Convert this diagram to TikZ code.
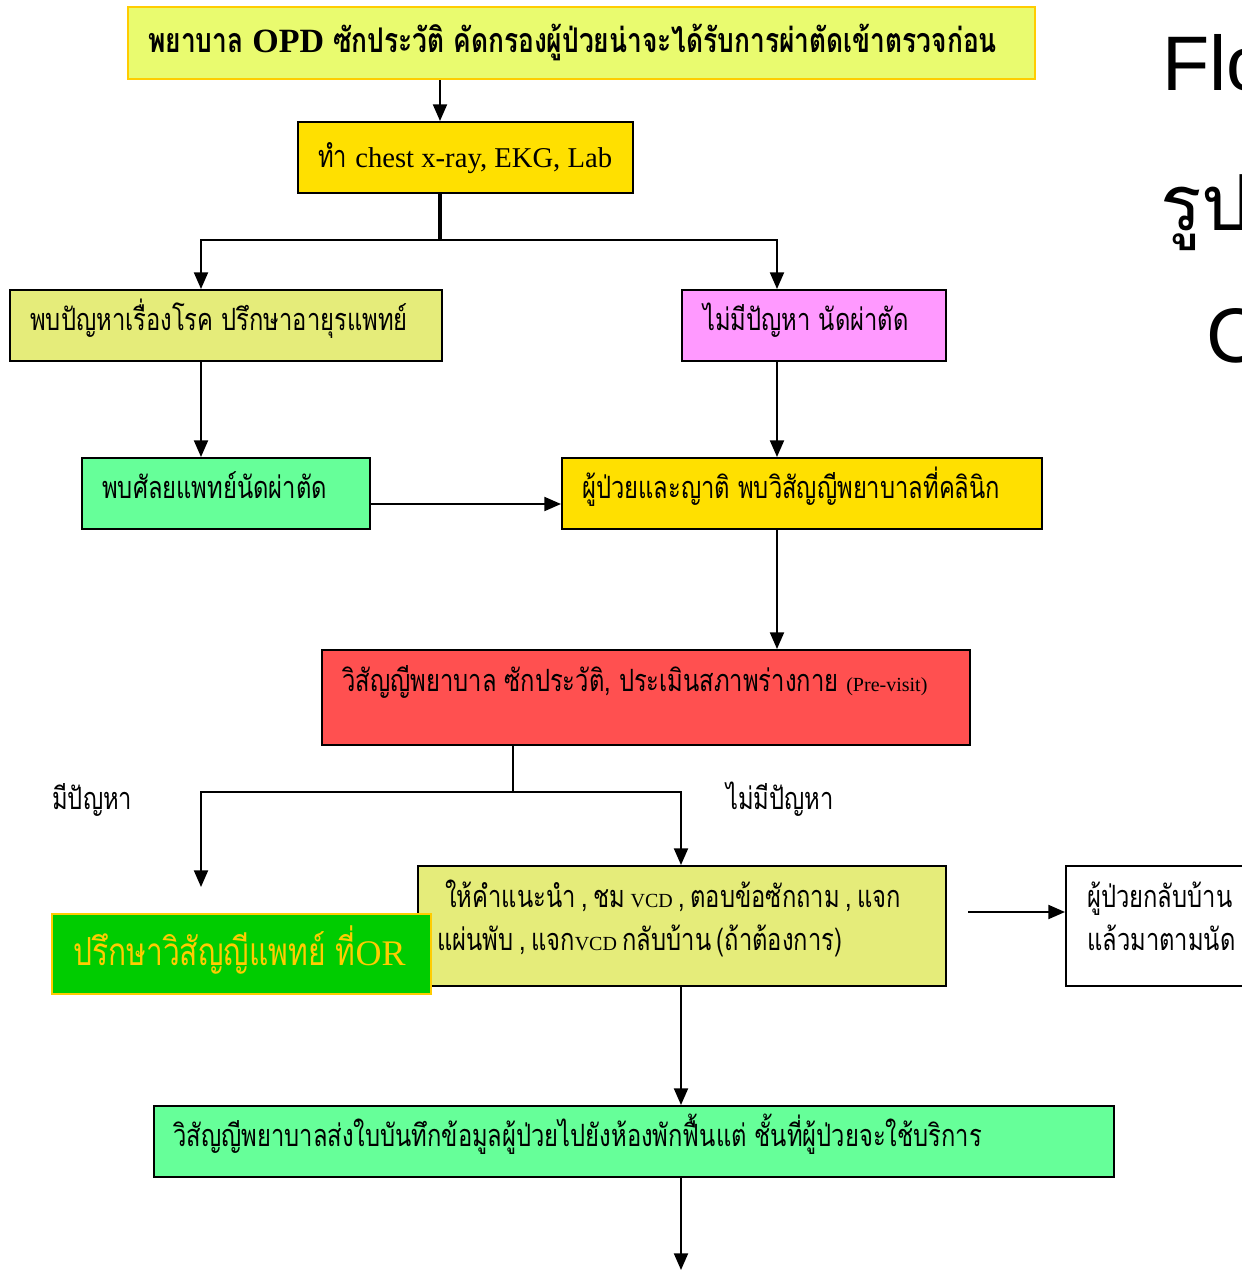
\documentclass[tikz,border=0pt]{standalone}
\usepackage{fontspec}
\setmainfont{Liberation Serif}
\newfontfamily\thf[Script=Thai,FakeStretch=0.775]{Loma}
\newfontfamily\bigth[Script=Thai]{Loma}
\newfontfamily\bigsans{Liberation Sans}
\usetikzlibrary{arrows.meta,calc}
\newdimen\px \px=0.75pt
\definecolor{cTop}{HTML}{E9FB6F}
\definecolor{cGold}{HTML}{FFCC00}
\definecolor{cYel}{HTML}{FFE000}
\definecolor{cOli}{HTML}{E5EC7A}
\definecolor{cPink}{HTML}{FF99FF}
\definecolor{cGrn}{HTML}{66FF99}
\definecolor{cRed}{HTML}{FF5050}
\definecolor{cDG}{HTML}{00CC00}
\tikzset{
  bx/.style={draw, line width=1.5pt, anchor=north west, inner sep=0pt},
  lbl/.style={anchor=base west, inner sep=0pt, font=\thf\fontsize{23}{27}\selectfont},
  arr/.style={line width=1.5pt, -{Triangle[width=10.5pt,length=12.5pt]}},
  ln/.style={line width=1.5pt},
}
\begin{document}
\begin{tikzpicture}[x=0.75pt,y=-0.75pt]
\useasboundingbox (0,0) rectangle (1242,1271);
\clip (0,0) rectangle (1242,1271);
\fill[white] (0,0) rectangle (1242,1271);
% column coordinates
\coordinate (kA) at (440,0);
\coordinate (kL) at (201,0);
\coordinate (kR) at (777,0);
\coordinate (kM) at (513,0);
\coordinate (kB) at (681,0);
\coordinate (j1) at (440,240);
\coordinate (j2) at (513,792);
\coordinate (y504) at (0,504);
\coordinate (e1) at (201,887);
\coordinate (s1) at (968,912);
\coordinate (e2) at (681,1270);
% boxes
\node[bx, fill=cTop, draw=cGold, minimum width=907\px, minimum height=72\px] (b1) at (127,6) {};
\node[bx, fill=cYel, minimum width=335\px, minimum height=71\px] (b2) at (297,121) {};
\node[bx, fill=cOli, minimum width=432\px, minimum height=71\px] (b3) at (9,289) {};
\node[bx, fill=cPink, minimum width=264\px, minimum height=71\px] (b4) at (681,289) {};
\node[bx, fill=cGrn, minimum width=288\px, minimum height=71\px] (b5) at (81,457) {};
\node[bx, fill=cYel, minimum width=480\px, minimum height=71\px] (b6) at (561,457) {};
\node[bx, fill=cRed, minimum width=648\px, minimum height=95\px] (b7) at (321,649) {};
\node[bx, fill=cOli, minimum width=528\px, minimum height=120\px] (b8) at (417,865) {};
\node[bx, fill=cDG, draw=cGold, minimum width=379\px, minimum height=80\px] (b9) at (51,913) {};
\node[bx, fill=white, minimum width=200\px, minimum height=120\px] (b10) at (1065,865) {};
\node[bx, fill=cGrn, minimum width=960\px, minimum height=71\px] (b11) at (153,1105) {};
% texts
\node[lbl, font=\thf\bfseries\fontsize{25.5}{29}\selectfont] (t1) at (148,52) {พยาบาล {\rmfamily OPD} ซักประวัติ คัดกรองผู้ป่วยน่าจะได้รับการผ่าตัดเข้าตรวจก่อน};
\node[lbl] (t2) at (318,167) {ทำ {\rmfamily\fontsize{21.5}{26}\selectfont chest x-ray, EKG, Lab}};
\node[lbl] (t3) at (30,330) {พบปัญหาเรื่องโรค ปรึกษาอายุรแพทย์};
\node[lbl] (t4) at (703,330) {ไม่มีปัญหา นัดผ่าตัด};
\node[lbl] (t5) at (102,498) {พบศัลยแพทย์นัดผ่าตัด};
\node[lbl] (t6) at (582,498) {ผู้ป่วยและญาติ พบวิสัญญีพยาบาลที่คลินิก};
\node[lbl] (t7) at (342,691) {วิสัญญีพยาบาล ซักประวัติ, ประเมินสภาพร่างกาย {\rmfamily\fontsize{15}{18}\selectfont (Pre-visit)}};
\node[lbl] (l1) at (52,809) {มีปัญหา};
\node[lbl] (l2) at (726,809) {ไม่มีปัญหา};
\node[lbl] (t8a) at (445,907) {\spaceskip=0.18em\relax ให้คำแนะนำ , ชม {\rmfamily\fontsize{15}{18}\selectfont VCD} , ตอบข้อซักถาม , แจก};
\node[lbl] (t8b) at (437,950) {\spaceskip=0.18em\relax แผ่นพับ , แจก{\rmfamily\fontsize{15}{18}\selectfont VCD} กลับบ้าน (ถ้าต้องการ)};
\node[lbl, text=cGold, font=\thf\fontsize{29}{33}\selectfont] (t9) at (73,965) {ปรึกษาวิสัญญีแพทย์ ที่{\rmfamily\fontsize{27}{30}\selectfont OR}};
\node[lbl] (t10a) at (1087,907) {ผู้ป่วยกลับบ้าน};
\node[lbl] (t10b) at (1087,950) {แล้วมาตามนัด};
\node[lbl] (t11) at (173,1146) {วิสัญญีพยาบาลส่งใบบันทึกข้อมูลผู้ป่วยไปยังห้องพักฟื้นแต่ ชั้นที่ผู้ป่วยจะใช้บริการ};
% right side title fragments (cut by the page edge, as in the reference)
\node[anchor=base west, inner sep=0pt, font=\bigsans\fontsize{58}{60}\selectfont] (r1) at (1162,90) {Flo};
\node[anchor=base west, inner sep=0pt, font=\bigth\fontsize{58}{60}\selectfont] (r2) at (1160,230) {รูป};
\node[anchor=base west, inner sep=0pt, font=\bigsans\fontsize{58}{60}\selectfont] (r3) at (1206,362) {C};
% connectors
\draw[arr] (b1.south -| kA) -- (b2.north -| kA);
\draw[line width=2.5pt] (b2.south -| kA) -- (j1);
\draw[arr] (j1) -| (b3.north -| kL);
\draw[arr] (j1) -| (b4.north -| kR);
\draw[arr] (b3.south -| kL) -- (b5.north -| kL);
\draw[arr] (b4.south -| kR) -- (b6.north -| kR);
\draw[arr] (b5.east |- y504) -- (b6.west |- y504);
\draw[arr] (b6.south -| kR) -- (b7.north -| kR);
\draw[ln] (b7.south -| kM) -- (j2);
\draw[arr] (j2) -| (e1);
\draw[arr] (j2) -| (b8.north -| kB);
\draw[arr] (s1) -- (b10.west |- s1);
\draw[arr] (b8.south -| kB) -- (b11.north -| kB);
\draw[arr] (b11.south -| kB) -- (e2);
\end{tikzpicture}
\end{document}
